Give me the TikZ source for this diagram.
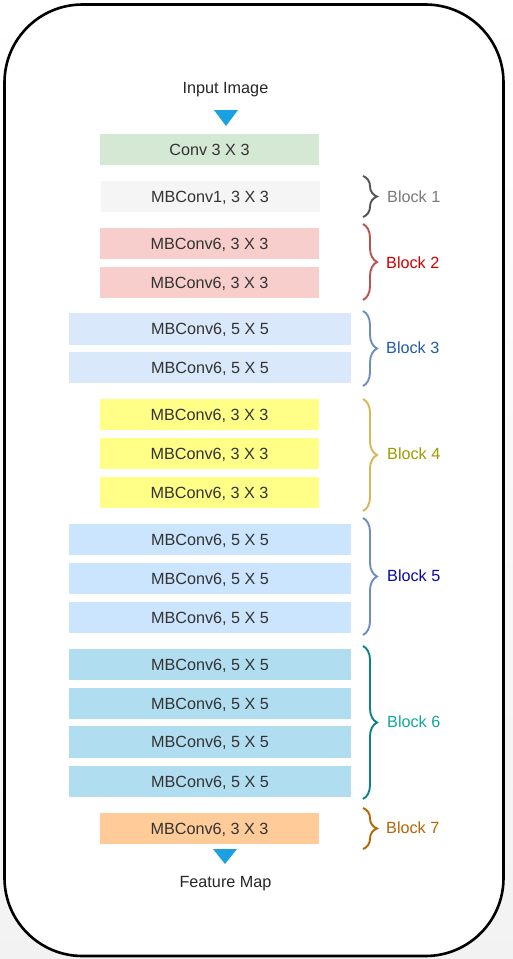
\documentclass[tikz,border=0pt]{standalone}
\usepackage{fontspec}
\setmainfont{Liberation Sans}
\usetikzlibrary{decorations.pathreplacing}
\definecolor{txtgray}{HTML}{333333}
\definecolor{cgreen}{HTML}{D5E8D4}
\definecolor{cgray}{HTML}{F5F5F5}
\definecolor{cred}{HTML}{F8CECC}
\definecolor{cblue}{HTML}{DAE8FC}
\definecolor{cyellow}{HTML}{FFFF88}
\definecolor{cblueb}{HTML}{CCE5FF}
\definecolor{ccyan}{HTML}{B1DDF0}
\definecolor{corange}{HTML}{FFCC99}
\definecolor{triblue}{HTML}{1BA1E2}
\definecolor{br1}{HTML}{555555}\definecolor{lb1}{HTML}{7A7A7A}
\definecolor{br2}{HTML}{B85450}\definecolor{lb2}{HTML}{D00000}
\definecolor{br3}{HTML}{6C8EBF}\definecolor{lb3}{HTML}{1F5CA8}
\definecolor{br4}{HTML}{D6B656}\definecolor{lb4}{HTML}{9C9C00}
\definecolor{br5}{HTML}{6C8EBF}\definecolor{lb5}{HTML}{0A0AA0}
\definecolor{br6}{HTML}{0E8088}\definecolor{lb6}{HTML}{13A89E}
\definecolor{br7}{HTML}{B46504}\definecolor{lb7}{HTML}{B46504}
\begin{document}
\begin{tikzpicture}[x=1pt,y=-1pt,
  box/.style={draw=none, minimum height=31.5pt, inner sep=0pt,
    font=\fontsize{16.2}{18}\selectfont, text=txtgray, text height=11.6pt, text depth=0pt},
  narrow/.style={box, minimum width=219pt},
  wide/.style={box, minimum width=282pt},
  bracestyle/.style={decorate, decoration={brace, amplitude=14pt}, line width=1.9pt},
  blabel/.style={anchor=west, inner sep=0pt, font=\fontsize{16.2}{18}\selectfont, text height=11.6pt, text depth=0pt},
  caption/.style={inner sep=0pt, font=\fontsize{16.2}{18}\selectfont, text=black!85, text height=11.6pt, text depth=0pt}
]
\useasboundingbox (0,0) rectangle (513,959);
\shade[top color=white, bottom color=black!5] (0,0) rectangle (513,959);
\draw[line width=2.6pt, rounded corners=78pt, fill=white] (4.5,4.5) rectangle (503.5,956);

\node[caption] (inp) at (225.5,87.5) {Input Image};
\fill[triblue] (214,110) -- (238,110) -- (226,126) -- cycle;

\node[narrow, fill=cgreen] (conv) at (209.5,149.5) {Conv 3 X 3};
\node[narrow, fill=cgray] (m1) at (210,196.5) {MBConv1, 3 X 3};
\node[narrow, fill=cred] (m2a) at (209.5,243.5) {MBConv6, 3 X 3};
\node[narrow, fill=cred] (m2b) at (209.5,282.5) {MBConv6, 3 X 3};
\node[wide, fill=cblue] (m3a) at (210,329) {MBConv6, 5 X 5};
\node[wide, fill=cblue] (m3b) at (210,367.5) {MBConv6, 5 X 5};
\node[narrow, fill=cyellow] (m4a) at (209.5,414.5) {MBConv6, 3 X 3};
\node[narrow, fill=cyellow] (m4b) at (209.5,453.5) {MBConv6, 3 X 3};
\node[narrow, fill=cyellow] (m4c) at (209.5,492.5) {MBConv6, 3 X 3};
\node[wide, fill=cblueb] (m5a) at (210,539.5) {MBConv6, 5 X 5};
\node[wide, fill=cblueb] (m5b) at (210,578.5) {MBConv6, 5 X 5};
\node[wide, fill=cblueb] (m5c) at (210,617.5) {MBConv6, 5 X 5};
\node[wide, fill=ccyan] (m6a) at (210,664.5) {MBConv6, 5 X 5};
\node[wide, fill=ccyan] (m6b) at (210,703.5) {MBConv6, 5 X 5};
\node[wide, fill=ccyan] (m6c) at (210,742) {MBConv6, 5 X 5};
\node[wide, fill=ccyan] (m6d) at (210,781.5) {MBConv6, 5 X 5};
\node[narrow, fill=corange] (m7) at (209.5,828.5) {MBConv6, 3 X 3};

\fill[triblue] (213,849) -- (237,849) -- (225,864) -- cycle;
\node[caption] (out) at (225.5,882) {Feature Map};

\draw[bracestyle, br1] (363,176) -- (363,217);
\node[blabel, text=lb1] (l1) at (387,197) {Block 1};
\draw[bracestyle, br2] (363,224) -- (363,300);
\node[blabel, text=lb2] (l2) at (386,263) {Block 2};
\draw[bracestyle, br3] (363,311) -- (363,386);
\node[blabel, text=lb3] (l3) at (386,348) {Block 3};
\draw[bracestyle, br4] (363,399) -- (363,511);
\node[blabel, text=lb4] (l4) at (387,454) {Block 4};
\draw[bracestyle, br5] (363,518) -- (363,635);
\node[blabel, text=lb5] (l5) at (387,576) {Block 5};
\draw[bracestyle, br6] (363,646) -- (363,799);
\node[blabel, text=lb6] (l6) at (387,722) {Block 6};
\draw[bracestyle, br7] (363,808) -- (363,849);
\node[blabel, text=lb7] (l7) at (386,828) {Block 7};
\end{tikzpicture}
\end{document}
